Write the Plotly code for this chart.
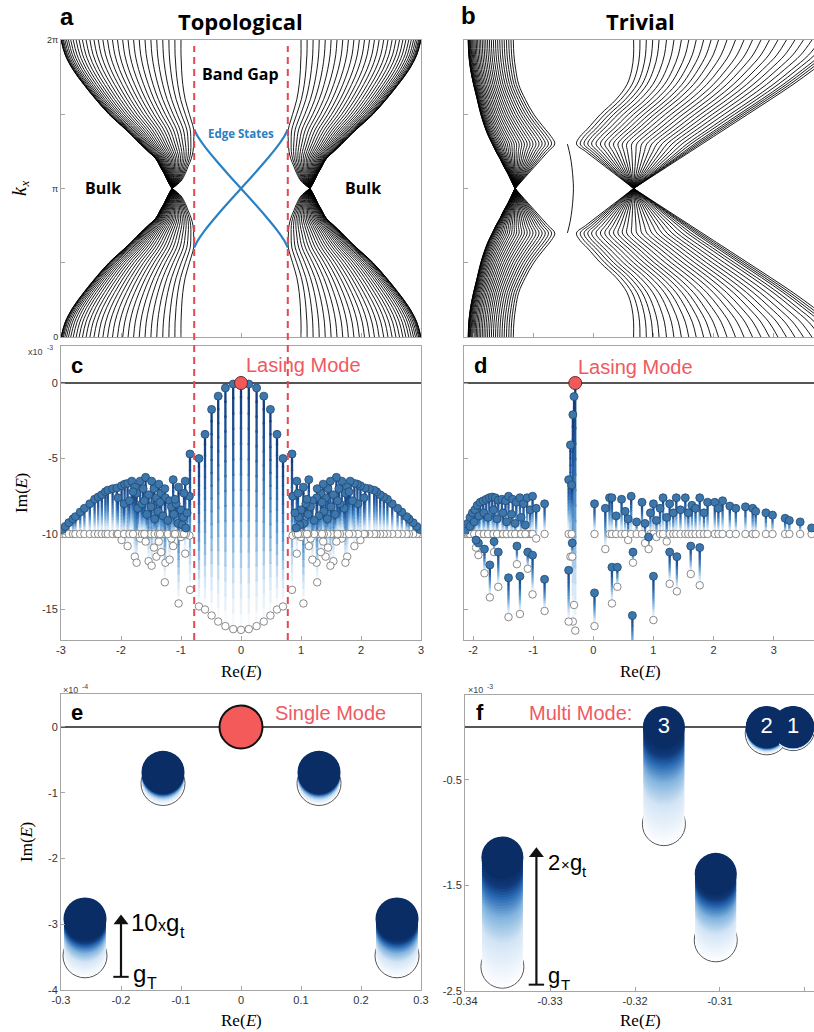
import numpy as np
import plotly.graph_objects as go

W, H = 814, 1032
def px(x): return x / W
def py(y): return 1 - y / H

SANS = 'Liberation Sans, Arial, sans-serif'
BOLD = 'Open Sans, Liberation Sans, sans-serif'
SERIF = 'Liberation Serif, Times New Roman, serif'
RED = '#ef5a62'
NAVY = '#0b2d66'

# ======================= DATA =======================
# Band profiles E(t), with t = |k_x - pi| / pi  (panels a, b)
t_nodes = [0, 0.05, 0.1, 0.15, 0.2, 0.25, 0.3, 0.35, 0.4, 0.5, 0.6, 0.7, 0.8, 0.9, 1.0]
topo_outer = [-1.15, -1.22, -1.28, -1.35, -1.42, -1.55, -1.68, -1.8, -1.93, -2.2, -2.42, -2.62, -2.8, -2.93, -3.0]
topo_inner = [-1.15, -1.0, -0.93, -0.88, -0.83, -0.8, -0.79, -0.785, -0.79, -0.86, -0.93, -0.97, -0.99, -1.0, -1.0]
band_weights = [0.0, 0.001, 0.005, 0.012, 0.02, 0.032, 0.046, 0.062, 0.081, 0.102, 0.126, 0.151,
                0.179, 0.209, 0.241, 0.275, 0.311, 0.349, 0.388, 0.429, 0.471, 0.514, 0.559, 0.605,
                0.652, 0.7, 0.749, 0.798, 0.848, 0.899, 0.949, 1.0]
edge_E = [-0.78, -0.72, -0.6, -0.4, -0.2, 0.0, 0.2, 0.4, 0.6, 0.72, 0.78]
edge_dk = [1.25, 1.1, 0.88, 0.57, 0.28, 0.0, -0.28, -0.57, -0.88, -1.1, -1.25]
gap_edges = [-0.78, 0.78]

triv_left_outer = [-1.3, -1.36, -1.42, -1.49, -1.55, -1.62, -1.68, -1.74, -1.79, -1.87, -1.93, -1.99, -2.04, -2.07, -2.08]
triv_left_inner = [-1.3, -1.19, -1.08, -0.97, -0.86, -0.75, -0.64, -0.7, -0.8, -0.99, -1.13, -1.24, -1.29, -1.32, -1.33]
triv_right_outer = [0.67, 0.86, 1.05, 1.24, 1.43, 1.62, 1.81, 2.0, 2.19, 2.57, 2.95, 3.32, 3.66, 3.98, 4.2]
triv_right_inner = [0.67, 0.51, 0.35, 0.19, 0.03, -0.13, -0.28, -0.22, -0.1, 0.12, 0.38, 0.56, 0.64, 0.67, 0.67]
triv_right_weights = [0.0, 0.03, 0.06, 0.09, 0.12, 0.155, 0.19, 0.225, 0.26, 0.295, 0.33, 0.365, 0.4,
                      0.44, 0.48, 0.52, 0.56, 0.6, 0.64, 0.68, 0.72, 0.76, 0.8, 0.84, 0.88, 0.91,
                      0.94, 0.96, 0.98, 1.0]
triv_edge_E = [-0.43, -0.385, -0.355, -0.337, -0.33, -0.337, -0.355, -0.385, -0.43]
triv_edge_dk = [0.94, 0.7, 0.45, 0.2, 0.0, -0.2, -0.45, -0.7, -0.94]

# Panel c (topological): Re(E), Im(E) with gain, Im(E) passive  (x1e-3)
c_center_re = [-0.70, -0.60, -0.49, -0.38, -0.26, -0.13, 0.0, 0.13, 0.26, 0.38, 0.49, 0.60, 0.70]
c_center_act = [-5.0, -3.4, -1.75, -0.87, -0.33, -0.07, 0.0, -0.07, -0.33, -0.87, -1.75, -3.4, -5.0]
c_center_pas = [-14.8, -15.0, -15.4, -15.8, -16.1, -16.3, -16.35, -16.3, -16.1, -15.8, -15.4, -15.0, -14.8]
c_bulk_re = [-2.98, -2.93, -2.87, -2.80, -2.76, -2.68, -2.61, -2.52, -2.44, -2.38,
             -2.32, -2.26, -2.22, -2.14, -2.07, -1.99, -1.94, -1.89, -1.82, -1.77,
             -1.74, -1.68, -1.63, -1.59, -1.54, -1.49, -1.45, -1.41, -1.37, -1.33,
             -1.27, -1.26, -1.19, -1.16, -1.13, -1.08, -1.04, -1.00, -0.96, -0.93,
             -0.90, -0.86, -0.85,
             -2.05, -1.95, -1.86, -1.72, -1.65, -1.57, -1.50, -1.44, -1.38, -1.30,
             -1.22, -1.12, -1.05, -0.98, -0.92, -1.80, -1.61, -1.35, -1.10, -0.95]
c_bulk_act = [-9.7, -9.5, -9.25, -9.0, -8.85, -8.55, -8.3, -8.0, -7.7, -7.55,
              -7.4, -7.2, -7.1, -7.0, -6.95, -6.8, -6.7, -6.65, -6.5, -6.9,
              -7.3, -6.5, -7.0, -6.25, -7.4, -6.5, -7.0, -7.6, -6.7, -7.3,
              -7.0, -7.6, -7.8, -8.2, -6.4, -8.0, -6.9, -8.4, -8.9, -6.5,
              -8.6, -7.5, -4.7,
              -7.6, -8.0, -7.8, -8.3, -8.0, -8.7, -8.2, -9.0, -8.5, -8.8,
              -9.1, -8.7, -9.3, -9.4, -9.6, -7.2, -7.8, -7.9, -7.7, -7.3]
c_bulk_pas = [-10, -10, -10, -10, -10, -10, -10, -10, -10, -10,
              -10, -10, -10, -10, -10, -10.4, -10, -10.8, -10, -11.5,
              -11.9, -10.3, -10, -10.5, -11.8, -12.1, -10.9, -11.5, -10.5, -11.2,
              -13.2, -11.9, -11.7, -10.3, -10.8, -10, -14.6, -10.2, -10, -11.3,
              -10, -10.1, -13.7,
              -10, -10, -10, -10, -10, -10, -10, -10, -10, -10,
              -10, -10, -10, -10, -10, -10, -10, -10, -10, -10]
c_lasing = [0.0, 0.0]

# Panel d (trivial)
d_left_re = [-2.13, -2.09, -2.05, -2.01, -1.97, -1.93, -1.88, -1.83, -1.78, -1.73, -1.68, -1.63, -1.58,
             -1.52, -1.46, -1.41, -1.34, -1.28, -1.22, -1.16, -1.10, -1.05, -1.01, -0.95, -0.81,
             -2.05, -1.98, -1.90, -1.82, -1.75, -1.66, -1.60, -1.50, -1.44, -1.36, -1.30, -1.20, -1.13,
             -1.91, -1.81, -1.72, -1.58, -1.41, -1.27, -1.22, -1.09, -1.01, -0.81, -1.95, -1.65]
d_left_act = [-9.8, -9.3, -8.9, -8.6, -8.4, -8.1, -7.9, -7.8, -7.7, -7.6, -7.55, -7.6, -7.75,
              -7.7, -7.8, -7.5, -7.7, -7.9, -7.6, -8.0, -7.6, -8.4, -7.5, -8.3, -8.0,
              -9.5, -9.2, -8.8, -8.6, -8.9, -8.4, -9.0, -8.6, -9.2, -8.7, -9.3, -8.9, -9.4,
              -10.6, -11.0, -12.05, -11.2, -12.9, -10.8, -12.8, -11.2, -11.4, -13.0, -10.4, -10.5]
d_left_pas = [-10, -10, -10, -10, -10, -10, -10, -10, -10, -10, -10, -10, -10,
              -10, -10, -10, -10, -10, -10, -10, -10, -10, -10, -10.3, -10,
              -10, -10, -10, -10, -10, -10, -10, -10, -10, -10, -10, -10, -10,
              -11.4, -12.6, -14.2, -13.5, -15.5, -12.0, -15.3, -12.3, -14.0, -15.1, -10.9, -11.2]
d_mid_re = [-0.30, -0.32, -0.34, -0.38, -0.41, -0.36, -0.35, -0.41]
d_mid_act = [0.0, -0.9, -2.1, -4.1, -6.4, -6.75, -10.6, -12.4]
d_mid_pas = [-16.4, -14.7, -15.8, -11.5, -10.0, -10.0, -11.5, -15.8]
d_right_re = [0.02, 0.02, 0.20, 0.27, 0.31, 0.31, 0.40, 0.38, 0.47, 0.53,
              0.58, 0.63, 0.65, 0.66, 0.72, 0.81, 0.86, 0.92, 0.95, 1.00,
              1.00, 1.05, 1.11, 1.16, 1.22, 1.27, 1.27, 1.33, 1.38, 1.39,
              1.45, 1.53, 1.58, 1.62, 1.64, 1.70, 1.77, 1.77, 1.84, 1.90,
              2.02, 2.08, 2.15, 2.27, 2.37, 2.53, 2.65, 2.70, 2.87, 2.98,
              3.19, 3.26, 3.44, 3.63]
d_right_act = [-8.0, -13.9, -8.3, -7.6, -7.6, -12.2, -12.2, -8.8, -7.7, -8.5,
               -9.0, -7.5, -15.4, -11.2, -9.2, -7.9, -9.3, -10.2, -8.6, -8.0,
               -12.8, -9.1, -8.3, -7.6, -8.9, -8.0, -11.2, -8.6, -7.6, -11.5,
               -8.4, -7.6, -8.6, -10.8, -8.1, -8.3, -7.6, -10.9, -8.6, -7.9,
               -7.9, -8.3, -7.8, -8.15, -8.3, -8.2, -8.3, -8.5, -8.6, -8.75,
               -8.96, -9.1, -9.2, -9.6]
d_right_pas = [-10, -16.1, -11.0, -10, -10, -14.6, -13.5, -10, -10, -10,
               -10.4, -10, -18.0, -11.9, -10, -10, -10.6, -11.0, -10, -10,
               -15.7, -10.2, -10, -10, -10.5, -10, -13.3, -10, -10, -13.8,
               -10, -10, -10, -12.65, -10, -10, -10, -13.4, -10, -10,
               -10, -10, -10, -10, -10, -10, -10, -10, -10, -10,
               -10, -10, -10, -10]
d_lasing = [-0.30, 0.0]

# Panel e (zoom of topological, x1e-4)
e_re = [-0.26, -0.13, 0.13, 0.26]
e_act = [-2.92, -0.69, -0.69, -2.92]
e_pas = [-3.48, -0.86, -0.86, -3.48]
e_lasing = [0.0, 0.0]
e_arrow = [-0.2, -3.8, -2.95]   # x, base, head

# Panel f (zoom of trivial, x1e-3)
f_re = [-0.3356, -0.3166, -0.3105, -0.3045, -0.3014]
f_act = [-1.235, 0.0, -1.39, 0.0, 0.0]
f_pas = [-2.27, -0.92, -2.02, -0.06, -0.02]
f_labels = ['', '3', '', '2', '1']
f_arrow = [-0.3316, -2.44, -1.2]

# ======================= HELPERS =======================
STEM_STOPS = [(0.0, (255, 255, 255)), (0.2, (205, 225, 243)), (0.45, (95, 158, 212)),
              (0.7, (38, 98, 168)), (1.0, (16, 56, 122))]
PILL_STOPS = [(0.0, (252, 253, 255)), (0.38, (212, 229, 245)), (0.62, (130, 180, 222)),
              (0.8, (40, 104, 178)), (0.9, (16, 58, 122)), (1.0, (11, 45, 102))]

def lerp_color(stops, f):
    f = min(max(f, 0.0), 1.0)
    for (f0, c0), (f1, c1) in zip(stops[:-1], stops[1:]):
        if f <= f1:
            u = 0 if f1 == f0 else (f - f0) / (f1 - f0)
            c = [round(a + (b - a) * u) for a, b in zip(c0, c1)]
            return f'rgb({c[0]},{c[1]},{c[2]})'
    c = stops[-1][1]
    return f'rgb({c[0]},{c[1]},{c[2]})'

def band_segments(profiles, tgrid):
    xs, ys = [], []
    for E in profiles:
        for sgn in (-1, 1):
            xs += list(E) + [None]
            ys += [np.pi + sgn * t * np.pi for t in tgrid] + [None]
    return xs, ys

def line_trace(xs, ys, xa, ya, color='black', width=1.0, shape='spline'):
    return go.Scatter(x=xs, y=ys, mode='lines', xaxis=xa, yaxis=ya, hoverinfo='skip', showlegend=False,
                      line=dict(color=color, width=width, shape=shape), connectgaps=False)

def stem_traces(re, act, pas, xa, ya, K=16, width=2.3):
    out = []
    for j in range(K):
        xs, ys = [], []
        for r, a, p in zip(re, act, pas):
            L = a - p
            xs += [r, r, None]
            ys += [p + L * j / K, p + L * (j + 1.15) / K, None]
        out.append(go.Scatter(x=xs, y=ys, mode='lines', xaxis=xa, yaxis=ya, hoverinfo='skip',
                              showlegend=False, line=dict(color=lerp_color(STEM_STOPS, (j + 0.5) / K), width=width)))
    return out

def blend(outer, inner, w):
    return [(1 - w) * o + w * i for o, i in zip(outer, inner)]

fig = go.Figure()

# ======================= PANEL a =======================
a_left = [blend(topo_outer, topo_inner, w) for w in band_weights]
a_right = [[-e for e in E] for E in a_left]
xs, ys = band_segments(a_left + a_right, t_nodes)
fig.add_trace(line_trace(xs, ys, 'x', 'y', width=0.9))
fig.add_trace(line_trace(edge_E + [None] + edge_E,
                         [np.pi + d for d in edge_dk] + [None] + [np.pi - d for d in edge_dk],
                         'x', 'y', color='#2a80c4', width=2.2))

# ======================= PANEL b =======================
b_left = [blend(triv_left_outer, triv_left_inner, w) for w in band_weights]
b_right = [blend(triv_right_inner, triv_right_outer, w) for w in triv_right_weights]
xs, ys = band_segments(b_left + b_right, t_nodes)
fig.add_trace(line_trace(xs, ys, 'x2', 'y2', width=0.9))
fig.add_trace(line_trace(triv_edge_E, [np.pi + d for d in triv_edge_dk], 'x2', 'y2', width=0.9))

# ======================= PANELS c, d =======================
def stem_panel(re, act, pas, lasing, xa, ya):
    for tr in stem_traces(re, act, pas, xa, ya):
        fig.add_trace(tr)
    fig.add_trace(go.Scatter(x=re, y=pas, mode='markers', xaxis=xa, yaxis=ya, hoverinfo='skip', showlegend=False,
                             marker=dict(size=7.5, color='white', line=dict(color='#7d7d7d', width=0.9))))
    fig.add_trace(go.Scatter(x=re, y=act, mode='markers', xaxis=xa, yaxis=ya, hoverinfo='skip', showlegend=False,
                             marker=dict(size=8, color='#3b77ad', line=dict(color='#24486f', width=0.8))))
    fig.add_trace(go.Scatter(x=[lasing[0]], y=[lasing[1]], mode='markers', xaxis=xa, yaxis=ya, hoverinfo='skip',
                             showlegend=False, marker=dict(size=13, color='#f25a5a', line=dict(color='#6a2525', width=1))))

c_re = c_center_re + c_bulk_re + [-r for r in c_bulk_re]
c_act = c_center_act + c_bulk_act + c_bulk_act
c_pas = c_center_pas + c_bulk_pas + c_bulk_pas
stem_panel(c_re, c_act, c_pas, c_lasing, 'x3', 'y3')

d_re = d_left_re + d_mid_re + d_right_re
d_act = d_left_act + d_mid_act + d_right_act
d_pas = d_left_pas + d_mid_pas + d_right_pas
stem_panel(d_re, d_act, d_pas, d_lasing, 'x4', 'y4')

# ======================= PANELS e, f =======================
def pill_panel(re, act, pas, xa, ya, size, n=40):
    fig.add_trace(go.Scatter(x=re, y=pas, mode='markers', xaxis=xa, yaxis=ya, hoverinfo='skip', showlegend=False,
                             marker=dict(size=size + 1, color='white', line=dict(color='#555', width=1))))
    gx, gy, gc = [], [], []
    for r, a, p in zip(re, act, pas):
        for i in range(n):
            f = i / (n - 1)
            gx.append(r); gy.append(p + (a - p) * f); gc.append(lerp_color(PILL_STOPS, f))
    fig.add_trace(go.Scatter(x=gx, y=gy, mode='markers', xaxis=xa, yaxis=ya, hoverinfo='skip', showlegend=False,
                             marker=dict(size=size - 1, color=gc, line=dict(width=0))))
    fig.add_trace(go.Scatter(x=re, y=act, mode='markers', xaxis=xa, yaxis=ya,
                             hoverinfo='skip', showlegend=False,
                             marker=dict(size=size, color=NAVY, line=dict(width=0))))

def arrow(arr, xa, ya):
    x, y0, y1 = arr
    fig.add_trace(go.Scatter(x=[x, x], y=[y0, y1], mode='lines', xaxis=xa, yaxis=ya, hoverinfo='skip',
                             showlegend=False, line=dict(color='#111', width=2.2)))
    fig.add_trace(go.Scatter(x=[x], y=[y1], mode='markers', xaxis=xa, yaxis=ya, hoverinfo='skip', showlegend=False,
                             marker=dict(symbol='triangle-up', size=13, color='#111')))
    fig.add_trace(go.Scatter(x=[x], y=[y0], mode='markers', xaxis=xa, yaxis=ya, hoverinfo='skip', showlegend=False,
                             marker=dict(symbol='line-ew', size=11, line=dict(color='#111', width=2))))

pill_panel(e_re, e_act, e_pas, 'x5', 'y5', 43)
fig.add_trace(go.Scatter(x=[e_lasing[0]], y=[e_lasing[1]], mode='markers', xaxis='x5', yaxis='y5', hoverinfo='skip',
                         showlegend=False, marker=dict(size=43, color='#f55a5a', line=dict(color='#111', width=2))))
arrow(e_arrow, 'x5', 'y5')

pill_panel(f_re, f_act, f_pas, 'x6', 'y6', 42)
lab_idx = [i for i, l in enumerate(f_labels) if l]
fig.add_trace(go.Scatter(x=[f_re[i] for i in lab_idx], y=[f_act[i] for i in lab_idx],
                         text=[f_labels[i] for i in lab_idx], mode='text', textposition='middle center',
                         textfont=dict(color='white', size=22, family=SANS), xaxis='x6', yaxis='y6',
                         hoverinfo='skip', showlegend=False))
arrow(f_arrow, 'x6', 'y6')

# ======================= AXES =======================
tickfont = dict(family=SANS, size=11, color='#333')
def ax(domain, rng, **kw):
    d = dict(domain=domain, range=rng, showline=True, linecolor='#a5a5a5', linewidth=1, mirror=True,
             ticks='inside', ticklen=4, tickcolor='#a5a5a5', showgrid=False, zeroline=False,
             tickfont=tickfont, fixedrange=True, automargin=False)
    d.update(kw)
    return d

kminor = dict(tickvals=[np.pi / 2, 1.5 * np.pi], ticks='inside', ticklen=4, tickcolor='#a5a5a5', showgrid=False)
fig.update_layout(
    xaxis=ax([px(61), px(421)], [-3, 3], anchor='y', tickvals=[-3, -2, -1, 0, 1, 2, 3], showticklabels=False),
    yaxis=ax([py(337), py(40)], [0, 2 * np.pi], anchor='x', tickvals=[0, np.pi, 2 * np.pi],
             ticktext=['0', 'π', '2π'], minor=kminor, tickfont=dict(family=SANS, size=9, color='#333')),
    xaxis2=ax([px(464), 1], [-2.15, 3.67], anchor='y2', tickvals=[-2, -1, 0, 1, 2, 3], showticklabels=False),
    yaxis2=ax([py(337), py(40)], [0, 2 * np.pi], anchor='x2', tickvals=[0, np.pi, 2 * np.pi],
              minor=kminor, showticklabels=False),
    xaxis3=ax([px(61), px(421)], [-3, 3], anchor='y3', tickvals=[-3, -2, -1, 0, 1, 2, 3],
              ticktext=['-3', '-2', '-1', '0', '1', '2', '3']),
    yaxis3=ax([py(640), py(346)], [-17.02, 2.45], anchor='x3', tickvals=[0, -5, -10, -15],
              ticktext=['0', '-5', '-10', '-15']),
    xaxis4=ax([px(464), 1], [-2.15, 3.67], anchor='y4', tickvals=[-2, -1, 0, 1, 2, 3],
              ticktext=['-2', '-1', '0', '1', '2', '3']),
    yaxis4=ax([py(640), py(346)], [-17.02, 2.45], anchor='x4', tickvals=[0, -5, -10, -15], showticklabels=False),
    xaxis5=ax([px(61), px(421)], [-0.3, 0.3], anchor='y5', tickvals=[-0.3, -0.2, -0.1, 0, 0.1, 0.2, 0.3],
              ticktext=['-0.3', '-0.2', '-0.1', '0', '0.1', '0.2', '0.3']),
    yaxis5=ax([py(990), py(694)], [-4, 0.5], anchor='x5', tickvals=[0, -1, -2, -3, -4],
              ticktext=['0', '-1', '-2', '-3', '-4']),
    xaxis6=ax([px(465), 1], [-0.34, -0.29894], anchor='y6', tickvals=[-0.34, -0.33, -0.32, -0.31, -0.30],
              ticktext=['-0.34', '-0.33', '-0.32', '-0.31', '-0.3']),
    yaxis6=ax([py(991), py(695)], [-2.5, 0.303], anchor='x6', tickvals=[-0.5, -1.5, -2.5],
              ticktext=['-0.5', '-1.5', '-2.5']),
)

# ======================= SHAPES =======================
shapes = []
for xa, ya in [('x3', 'y3'), ('x4', 'y4'), ('x5', 'y5'), ('x6', 'y6')]:
    shapes.append(dict(type='line', xref=f'{xa} domain', x0=0, x1=1, yref=ya, y0=0, y1=0,
                       line=dict(color='#555', width=2), layer='below'))
for g in gap_edges:
    shapes.append(dict(type='line', xref='x', x0=g, x1=g, yref='paper', y0=py(640), y1=py(46),
                       line=dict(color='#e8474f', width=2, dash='7px,5px')))

# ======================= TEXT =======================
annotations = []
def text(t, x, y, size, color='black', family=SANS, xanchor='center', angle=0, weight='normal', style='normal'):
    annotations.append(dict(text=t, x=px(x), y=py(y), xref='paper', yref='paper', showarrow=False,
                            font=dict(size=size, color=color, family=family, weight=weight, style=style),
                            xanchor=xanchor, yanchor='middle', textangle=angle))

def re_label(cx, cy):
    # "Re(" + italic "E" + ")"
    text('Re(', cx - 8, cy, 17, family=SERIF)
    text('E', cx + 9.5, cy, 17, family=SERIF, style='italic')
    text(')', cx + 17.5, cy, 17, family=SERIF)

def im_label(cx, cy):
    # rotated "Im(" + italic "E" + ")"
    text('Im(', cx, cy + 8, 17, family=SERIF, angle=-90)
    text('E', cx, cy - 9.5, 17, family=SERIF, angle=-90, style='italic')
    text(')', cx, cy - 17.5, 17, family=SERIF, angle=-90)

text('a', 67, 16, 24, weight='bold')
text('Topological', 241, 21, 22, family=BOLD, weight='bold')
text('b', 468, 15, 24, weight='bold')
text('Trivial', 640, 21, 22, family=BOLD, weight='bold')
text('Band Gap', 241, 74, 16, family=BOLD, weight='bold')
text('Edge States', 241, 133, 11.5, color='#2a80c4', family=BOLD, weight='bold')
text('Bulk', 103, 188, 16, family=BOLD, weight='bold')
text('Bulk', 363, 188, 16, family=BOLD, weight='bold')
text('k', 19, 191, 20, family=SERIF, angle=-90, style='italic')
text('x', 24, 184.5, 13, family=SERIF, angle=-90, style='italic')

text('x10', 45, 352, 9, color='#444', xanchor='right')
text('-3', 45, 348, 7, color='#444', xanchor='left')
text('c', 77, 366, 22, weight='bold')
text('d', 480, 366, 22, weight='bold')
text('Lasing Mode', 303, 365, 20, color=RED)
text('Lasing Mode', 635, 367, 20, color=RED)
im_label(21, 493)
re_label(241, 671)
re_label(640, 671)

text('×10', 80, 690, 9, color='#444', xanchor='right')
text('-4', 80, 686, 7, color='#444', xanchor='left')
text('×10', 485, 690, 9, color='#444', xanchor='right')
text('-3', 485, 686, 7, color='#444', xanchor='left')
text('e', 77, 712, 22, weight='bold')
text('f', 480, 712, 22, weight='bold')
text('Single Mode', 330, 713, 20, color=RED)
text('Multi Mode:', 580, 713, 20, color=RED)
im_label(26, 842)
re_label(241, 1020)
re_label(640, 1020)

# 10 x g_t  and  g_T  (panel e)
text('10', 129, 922, 24, xanchor='left')
text('x', 156, 925, 16, xanchor='left')
text('g', 164, 922, 24, xanchor='left')
text('t', 177.5, 932, 16, xanchor='left')
text('g', 131, 973, 24, xanchor='left')
text('T', 144.5, 983, 16, xanchor='left')
# 2 x g_t  and  g_T  (panel f)
text('2', 546, 862, 22, xanchor='left')
text('×', 558.5, 864, 15, xanchor='left')
text('g', 567.5, 862, 22, xanchor='left')
text('t', 580, 871, 15, xanchor='left')
text('g', 546, 975, 22, xanchor='left')
text('T', 558.5, 984, 15, xanchor='left')

fig.update_layout(width=W, height=H, margin=dict(l=0, r=0, t=0, b=0),
                  paper_bgcolor='white', plot_bgcolor='white', showlegend=False,
                  shapes=shapes, annotations=annotations)

fig.write_html('out.html')
